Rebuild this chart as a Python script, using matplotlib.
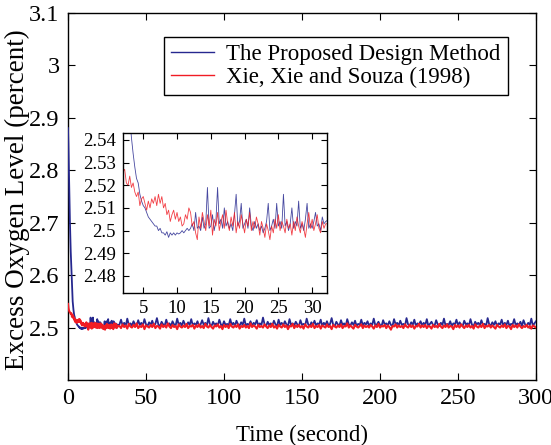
import numpy as np
import matplotlib
matplotlib.use("Agg")
import matplotlib.pyplot as plt

plt.rcParams['font.family'] = ['Liberation Serif', 'DejaVu Serif']

# sampled every 0.25 s from 0 to 32 s
blue_start = [
    2.880, 2.850, 2.810, 2.770, 2.730, 2.700, 2.670, 2.645,
    2.625, 2.600, 2.580, 2.562, 2.550, 2.541, 2.534, 2.528,
    2.523, 2.521, 2.516, 2.513, 2.511, 2.510, 2.508, 2.506,
    2.505, 2.504, 2.503, 2.502, 2.502, 2.500, 2.501, 2.499,
    2.499, 2.498, 2.4995, 2.497, 2.499, 2.498, 2.499, 2.498,
    2.499, 2.4985, 2.499, 2.500, 2.499, 2.500, 2.501, 2.500,
    2.501, 2.503, 2.500, 2.508, 2.501, 2.502, 2.500, 2.506,
    2.501, 2.503, 2.519, 2.501, 2.502, 2.507, 2.500, 2.504,
    2.519, 2.503, 2.505, 2.501, 2.510, 2.502, 2.504, 2.501,
    2.503, 2.500, 2.507, 2.516, 2.502, 2.504, 2.512, 2.501,
    2.503, 2.505, 2.501, 2.510, 2.502, 2.500, 2.504, 2.501,
    2.503, 2.500, 2.502, 2.499, 2.501, 2.504, 2.512, 2.500,
    2.502, 2.505, 2.501, 2.512, 2.502, 2.504, 2.501, 2.516,
    2.502, 2.504, 2.500, 2.503, 2.510, 2.501, 2.504, 2.502,
    2.513, 2.501, 2.503, 2.500, 2.505, 2.512, 2.501, 2.503,
    2.501, 2.504, 2.508, 2.502, 2.503, 2.500, 2.506, 2.503,
    2.504]
red_start = [
    2.545, 2.538, 2.534, 2.532, 2.530, 2.529, 2.528, 2.526,
    2.526, 2.527, 2.521, 2.520, 2.524, 2.519, 2.521, 2.517,
    2.515, 2.517, 2.511, 2.514, 2.515, 2.512, 2.509, 2.513,
    2.510, 2.514, 2.512, 2.515, 2.511, 2.516, 2.512, 2.515,
    2.510, 2.512, 2.507, 2.509, 2.504, 2.507, 2.509, 2.505,
    2.508, 2.504, 2.506, 2.502, 2.503, 2.507, 2.505, 2.510,
    2.508, 2.502, 2.504, 2.499, 2.496, 2.506, 2.501, 2.508,
    2.504, 2.500, 2.507, 2.502, 2.509, 2.498, 2.505, 2.502,
    2.508, 2.500, 2.504, 2.507, 2.501, 2.509, 2.503, 2.500,
    2.506, 2.502, 2.508, 2.499, 2.504, 2.501, 2.507, 2.503,
    2.499, 2.505, 2.502, 2.508, 2.500, 2.504, 2.501, 2.506,
    2.503, 2.498, 2.504, 2.501, 2.497, 2.503, 2.500, 2.496,
    2.502, 2.499, 2.505, 2.501, 2.507, 2.500, 2.504, 2.502,
    2.499, 2.505, 2.501, 2.503, 2.498, 2.504, 2.500, 2.506,
    2.502, 2.499, 2.504, 2.501, 2.497, 2.503, 2.508, 2.501,
    2.505, 2.500, 2.503, 2.507, 2.501, 2.499, 2.504, 2.501,
    2.503]

# sampled every 1 s from 33 to 300 s
blue_tail = [
    2.506, 2.515, 2.504, 2.509, 2.503, 2.517, 2.505, 2.508, 2.504, 2.512, 2.506, 2.503, 2.514, 2.505, 2.509, 2.504, 2.516, 2.506, 2.503, 2.510,
    2.505, 2.513, 2.504, 2.507, 2.518, 2.505, 2.503, 2.511, 2.506, 2.504, 2.515, 2.505, 2.508, 2.503, 2.512, 2.506, 2.504, 2.517, 2.505, 2.509,
    2.504, 2.513, 2.506, 2.503, 2.510, 2.505, 2.516, 2.504, 2.508, 2.505, 2.512, 2.503, 2.506, 2.514, 2.505, 2.509, 2.504, 2.518, 2.506, 2.503,
    2.511, 2.505, 2.508, 2.504, 2.515, 2.506, 2.503, 2.512, 2.505, 2.507, 2.504, 2.516, 2.505, 2.509, 2.503, 2.513, 2.506, 2.504, 2.510, 2.505,
    2.517, 2.504, 2.507, 2.505, 2.512, 2.503, 2.509, 2.506, 2.514, 2.504, 2.508, 2.505, 2.519, 2.506, 2.503, 2.511, 2.505, 2.508, 2.504, 2.513,
    2.506, 2.503, 2.515, 2.505, 2.509, 2.504, 2.512, 2.506, 2.503, 2.516, 2.505, 2.508, 2.504, 2.511, 2.506, 2.503, 2.514, 2.505, 2.507, 2.504,
    2.517, 2.506, 2.503, 2.510, 2.505, 2.513, 2.504, 2.508, 2.506, 2.515, 2.503, 2.509, 2.505, 2.512, 2.504, 2.507, 2.518, 2.505, 2.503, 2.511,
    2.506, 2.504, 2.514, 2.505, 2.508, 2.503, 2.516, 2.506, 2.504, 2.510, 2.505, 2.513, 2.503, 2.507, 2.505, 2.515, 2.504, 2.509, 2.506, 2.512,
    2.503, 2.508, 2.505, 2.517, 2.504, 2.506, 2.511, 2.505, 2.503, 2.514, 2.506, 2.508, 2.504, 2.512, 2.505, 2.503, 2.516, 2.506, 2.509, 2.504,
    2.513, 2.505, 2.507, 2.503, 2.518, 2.506, 2.504, 2.510, 2.505, 2.515, 2.503, 2.508, 2.506, 2.512, 2.504, 2.509, 2.505, 2.516, 2.503, 2.507,
    2.511, 2.505, 2.504, 2.514, 2.506, 2.503, 2.509, 2.505, 2.517, 2.504, 2.507, 2.505, 2.512, 2.503, 2.508, 2.506, 2.515, 2.504, 2.510, 2.505,
    2.503, 2.513, 2.506, 2.508, 2.504, 2.516, 2.505, 2.503, 2.511, 2.506, 2.509, 2.504, 2.514, 2.505, 2.507, 2.503, 2.518, 2.506, 2.504, 2.510,
    2.505, 2.512, 2.503, 2.508, 2.506, 2.515, 2.504, 2.509, 2.505, 2.513, 2.503, 2.507, 2.506, 2.516, 2.504, 2.508, 2.505, 2.511, 2.503, 2.514,
    2.506, 2.504, 2.509, 2.505, 2.517, 2.503, 2.508, 2.512]
red_tail = [
    2.503, 2.499, 2.506, 2.501, 2.504, 2.498, 2.507, 2.502, 2.500, 2.505, 2.501, 2.508, 2.499, 2.503, 2.501, 2.506, 2.497, 2.504, 2.502, 2.500,
    2.505, 2.501, 2.507, 2.499, 2.503, 2.502, 2.498, 2.506, 2.501, 2.504, 2.500, 2.508, 2.502, 2.499, 2.505, 2.501, 2.503, 2.497, 2.506, 2.502,
    2.500, 2.504, 2.501, 2.507, 2.499, 2.503, 2.502, 2.505, 2.498, 2.504, 2.501, 2.506, 2.500, 2.503, 2.499, 2.507, 2.502, 2.500, 2.505, 2.501,
    2.498, 2.504, 2.502, 2.506, 2.500, 2.503, 2.497, 2.505, 2.501, 2.504, 2.499, 2.507, 2.502, 2.500, 2.504, 2.501, 2.506, 2.498, 2.503, 2.501,
    2.505, 2.500, 2.503, 2.499, 2.508, 2.501, 2.504, 2.502, 2.498, 2.505, 2.501, 2.503, 2.500, 2.506, 2.502, 2.499, 2.504, 2.501, 2.507, 2.500,
    2.503, 2.498, 2.505, 2.502, 2.500, 2.506, 2.501, 2.504, 2.497, 2.503, 2.502, 2.507, 2.499, 2.504, 2.501, 2.505, 2.500, 2.503, 2.498, 2.506,
    2.502, 2.500, 2.504, 2.501, 2.507, 2.499, 2.503, 2.501, 2.505, 2.498, 2.504, 2.502, 2.500, 2.506, 2.501, 2.503, 2.497, 2.505, 2.502, 2.500,
    2.504, 2.501, 2.506, 2.499, 2.503, 2.502, 2.508, 2.500, 2.504, 2.501, 2.498, 2.505, 2.502, 2.500, 2.503, 2.506, 2.499, 2.504, 2.501, 2.503,
    2.500, 2.505, 2.502, 2.498, 2.504, 2.501, 2.507, 2.500, 2.503, 2.502, 2.505, 2.499, 2.504, 2.501, 2.496, 2.503, 2.502, 2.506, 2.500, 2.504,
    2.501, 2.503, 2.499, 2.506, 2.502, 2.500, 2.505, 2.501, 2.504, 2.498, 2.503, 2.502, 2.507, 2.500, 2.504, 2.501, 2.505, 2.499, 2.503, 2.502,
    2.498, 2.505, 2.501, 2.503, 2.500, 2.507, 2.502, 2.499, 2.504, 2.501, 2.506, 2.500, 2.503, 2.502, 2.497, 2.505, 2.501, 2.504, 2.500, 2.506,
    2.502, 2.499, 2.504, 2.501, 2.505, 2.500, 2.503, 2.498, 2.506, 2.502, 2.500, 2.504, 2.501, 2.507, 2.499, 2.503, 2.502, 2.505, 2.500, 2.504,
    2.501, 2.498, 2.505, 2.502, 2.500, 2.504, 2.501, 2.506, 2.499, 2.503, 2.502, 2.497, 2.505, 2.501, 2.504, 2.500, 2.506, 2.502, 2.499, 2.503,
    2.501, 2.505, 2.500, 2.503, 2.498, 2.504, 2.502, 2.500]

t = np.concatenate([np.linspace(0, 32, len(blue_start)),
                    np.arange(33, 33 + len(blue_tail))])
blue = np.array(blue_start + blue_tail)
red = np.array(red_start + red_tail)

labels = ["The Proposed Design Method", "Xie, Xie and Souza (1998)"]
BLUE = "#26288f"
RED = "#f01c24"

fig = plt.figure(figsize=(5.51, 4.45), dpi=100)
ax = fig.add_axes([0.1234, 0.146, 0.8494, 0.8255])
ax.plot(t, blue, color=BLUE, lw=1.3, label=labels[0], zorder=3)
ax.plot(t, red, color=RED, lw=1.5, label=labels[1], zorder=3)
ax.set_xlim(0, 300)
ax.set_ylim(2.4, 3.1)
ax.set_xticks([0, 50, 100, 150, 200, 250, 300])
ax.set_yticks([2.5, 2.6, 2.7, 2.8, 2.9, 3.0, 3.1])
ax.set_yticklabels(["2.5", "2.6", "2.7", "2.8", "2.9", "3", "3.1"])
ax.tick_params(direction="in", top=True, right=True, labelsize=17.5, length=5, width=0.8, pad=6)
ax.set_xlabel("Time (second)", fontsize=16.5, labelpad=11)
ax.set_ylabel("Excess Oxygen Level (percent)", fontsize=19.5)
ax.yaxis.set_label_coords(-0.081, 0.49)
for s in ax.spines.values():
    s.set_linewidth(1.0)

leg = ax.legend(loc="upper right", bbox_to_anchor=(0.94, 0.934), borderaxespad=0,
                fontsize=16.5, fancybox=False, edgecolor="black", framealpha=1,
                handlelength=1.85, borderpad=0.32, labelspacing=0.05, handletextpad=0.55)
leg.get_frame().set_linewidth(1.0)
for h in leg.get_lines():
    h.set_linewidth(1.0)

ins = fig.add_axes([0.2232, 0.3416, 0.3703, 0.3595])
ins.plot(t, blue, color=BLUE, lw=0.6, alpha=0.85)
ins.plot(t, red, color=RED, lw=0.6, alpha=0.85)
ins.set_xlim(2, 32.2)
ins.set_ylim(2.4725, 2.543)
ins.set_xticks([5, 10, 15, 20, 25, 30])
ins.set_yticks([2.48, 2.49, 2.5, 2.51, 2.52, 2.53, 2.54])
ins.set_yticklabels(["2.48", "2.49", "2.5", "2.51", "2.52", "2.53", "2.54"])
ins.tick_params(direction="in", top=True, right=True, labelsize=13.5, length=4, width=0.8, pad=5)
for s in ins.spines.values():
    s.set_linewidth(1.0)

fig.savefig("out.png", dpi=100)
